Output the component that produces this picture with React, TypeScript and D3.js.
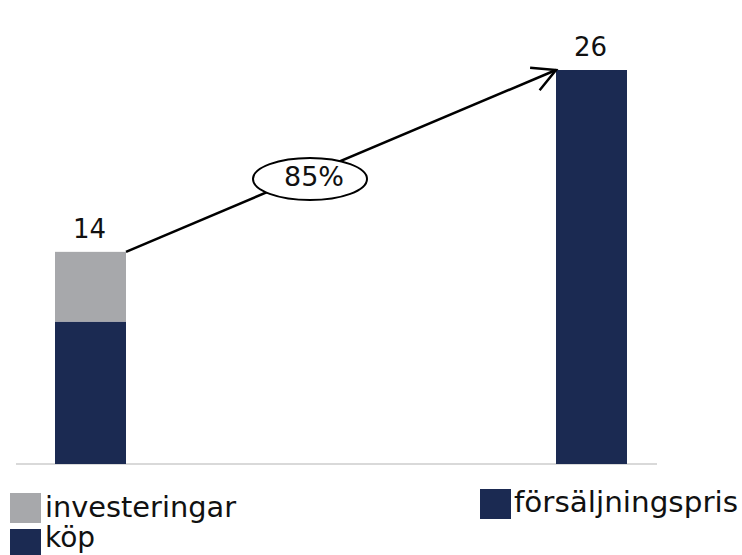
import React from "react";
import * as d3 from "d3";

const categories = ["left", "right"];
const kopValues = [9.4, 0];
const investeringarValues = [4.6, 0];
const forsaljningsprisValues = [0, 26];
const totalLabels = ["14", "26"];
const growthLabel = "85%";
const legendLabels = ["investeringar", "köp", "försäljningspris"];

const W = 742;
const H = 555;
const NAVY = "#1b2a52";
const GRAY = "#a7a8ab";
const FONT = "'DejaVu Sans', Verdana, sans-serif";

export default function App() {
  const x = d3.scalePoint<string>().domain(categories).range([90.5, 591.5]);
  const y = d3.scaleLinear().domain([0, 26]).range([464, 70]);
  const bw = 71;

  const totals = categories.map((_, i) => kopValues[i] + investeringarValues[i] + forsaljningsprisValues[i]);

  const x1 = (x("left") as number) + bw / 2;
  const y1 = y(totals[0]);
  const x2 = (x("right") as number) - bw / 2;
  const y2 = y(totals[1]);
  const ang = Math.atan2(y2 - y1, x2 - x1);
  const headLen = 26;
  const headAng = (28 * Math.PI) / 180;
  const h1 = [x2 - headLen * Math.cos(ang - headAng), y2 - headLen * Math.sin(ang - headAng)];
  const h2 = [x2 - headLen * Math.cos(ang + headAng), y2 - headLen * Math.sin(ang + headAng)];
  const ex = 310;
  const lineY = y1 + ((ex - x1) / (x2 - x1)) * (y2 - y1);
  const ey = lineY + 5;

  return (
    <svg width={W} height={H} style={{ position: "absolute", left: 0, top: 0, background: "#fff" }} fontFamily={FONT}>
      <line x1={16} x2={657} y1={y(0)} y2={y(0)} stroke="#d9d9d9" strokeWidth={2} />
      {categories.map((c, i) => {
        const cx = x(c) as number;
        const segs: { v0: number; v1: number; color: string }[] = [];
        let acc = 0;
        if (kopValues[i] > 0) { segs.push({ v0: acc, v1: acc + kopValues[i], color: NAVY }); acc += kopValues[i]; }
        if (investeringarValues[i] > 0) { segs.push({ v0: acc, v1: acc + investeringarValues[i], color: GRAY }); acc += investeringarValues[i]; }
        if (forsaljningsprisValues[i] > 0) { segs.push({ v0: acc, v1: acc + forsaljningsprisValues[i], color: NAVY }); acc += forsaljningsprisValues[i]; }
        return (
          <g key={c}>
            {segs.map((s, j) => (
              <rect key={j} x={cx - bw / 2} width={bw} y={y(s.v1)} height={y(s.v0) - y(s.v1)} fill={s.color} />
            ))}
            <text x={cx - 1} y={y(totals[i]) - 14} textAnchor="middle" fontSize={26} fill="#111">
              {totalLabels[i]}
            </text>
          </g>
        );
      })}
      <line x1={x1} y1={y1} x2={x2} y2={y2} stroke="#000" strokeWidth={2.5} />
      <polyline points={`${h1[0]},${h1[1]} ${x2},${y2} ${h2[0]},${h2[1]}`} fill="none" stroke="#000" strokeWidth={2.5} />
      <ellipse cx={ex} cy={ey} rx={57} ry={21} fill="#fff" stroke="#000" strokeWidth={2} />
      <text x={ex + 4} y={186} textAnchor="middle" fontSize={27} fill="#111">{growthLabel}</text>
      <rect x={10} y={493} width={31} height={30} fill={GRAY} />
      <text x={45} y={517} fontSize={28} fill="#111" textLength={191} lengthAdjust="spacingAndGlyphs">{legendLabels[0]}</text>
      <rect x={10} y={529} width={31} height={26} fill={NAVY} />
      <text x={45} y={547} fontSize={28} fill="#111">{legendLabels[1]}</text>
      <rect x={480} y={489} width={31} height={30} fill={NAVY} />
      <text x={514} y={512} fontSize={28} fill="#111" textLength={224} lengthAdjust="spacingAndGlyphs">{legendLabels[2]}</text>
    </svg>
  );
}
